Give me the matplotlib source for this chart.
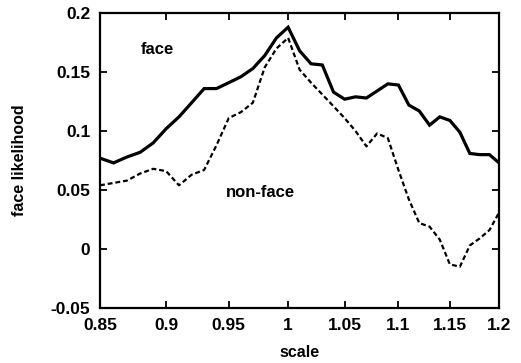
import matplotlib
matplotlib.use('Agg')
import matplotlib.pyplot as plt
import numpy as np

# escala (eje x, logaritmico en el original)
escala = [0.85, 0.86, 0.87, 0.88, 0.89, 0.90, 0.91, 0.92, 0.93, 0.94,
          0.95, 0.96, 0.97, 0.98, 0.99, 1.00, 1.01, 1.02, 1.03, 1.04,
          1.05, 1.06, 1.07, 1.08, 1.09, 1.10, 1.11, 1.12, 1.13, 1.14,
          1.15, 1.16, 1.17, 1.18, 1.19, 1.20]

# likelihood de cara
cara = [0.077, 0.073, 0.078, 0.082, 0.090, 0.102, 0.112, 0.124, 0.136, 0.136,
        0.141, 0.146, 0.153, 0.164, 0.179, 0.188, 0.168, 0.157, 0.156, 0.133,
        0.127, 0.129, 0.128, 0.134, 0.140, 0.139, 0.122, 0.117, 0.105, 0.112,
        0.109, 0.099, 0.081, 0.080, 0.080, 0.073]

# likelihood de no-cara
no_cara = [0.054, 0.056, 0.058, 0.064, 0.068, 0.066, 0.054, 0.063, 0.067, 0.088,
           0.111, 0.116, 0.124, 0.154, 0.170, 0.179, 0.152, 0.141, 0.131, 0.121,
           0.111, 0.100, 0.087, 0.098, 0.094, 0.067, 0.042, 0.022, 0.019, 0.008,
           -0.013, -0.015, 0.003, 0.009, 0.016, 0.031]

ticks_x = [0.85, 0.9, 0.95, 1, 1.05, 1.1, 1.15, 1.2]
etiquetas_x = ['0.85', '0.9', '0.95', '1', '1.05', '1.1', '1.15', '1.2']
ticks_y = [-0.05, 0, 0.05, 0.1, 0.15, 0.2]
etiquetas_y = ['-0.05', '0', '0.05', '0.1', '0.15', '0.2']

plt.rcParams['font.family'] = ['Liberation Sans', 'DejaVu Sans']

fig = plt.figure(figsize=(5.21, 3.63), dpi=100)
ax = fig.add_axes([0.192, 0.1515, 0.766, 0.8125])

ax.plot(escala, cara, color='black', linewidth=2.3, solid_joinstyle='miter')
ax.plot(escala, no_cara, color='black', linewidth=1.6, linestyle=(0, (2.2, 1.3)))

ax.set_xscale('log')
ax.set_xlim(0.85, 1.2)
ax.set_ylim(-0.05, 0.2)
ax.set_xticks(ticks_x)
ax.set_xticklabels(etiquetas_x)
ax.xaxis.set_minor_locator(matplotlib.ticker.NullLocator())
ax.set_yticks(ticks_y)
ax.set_yticklabels(etiquetas_y)

ax.tick_params(direction='in', length=5, width=1.3, top=True, right=True,
               labelsize=12.5, pad=7)
for t in ax.get_xticklabels() + ax.get_yticklabels():
    t.set_fontweight('bold')
for s in ax.spines.values():
    s.set_linewidth(1.6)

ax.set_xlabel('scale', fontsize=11.5, fontweight='bold', labelpad=9)
ax.set_ylabel('face likelihood', fontsize=11.5, fontweight='bold', labelpad=17)

ax.text(0.893, 0.169, 'face', fontsize=12, fontweight='bold', ha='center', va='center')
ax.text(0.976, 0.0475, 'non-face', fontsize=12, fontweight='bold', ha='center', va='center')

plt.savefig('out.png', dpi=100)
